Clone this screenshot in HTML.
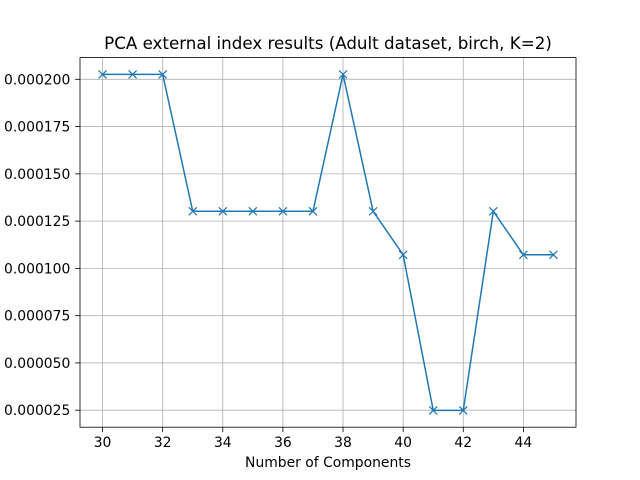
<!DOCTYPE html>
<html><head><meta charset="utf-8"><style>
body{margin:0;background:#fff}
svg{display:block;font-family:"DejaVu Sans","Liberation Sans",sans-serif}
</style></head><body>
<svg id="chart" width="640" height="480" viewBox="0 0 640 480" xmlns="http://www.w3.org/2000/svg">
<rect width="640" height="480" fill="#fff"/>
<text x="328" y="49" font-size="16.7" text-anchor="middle" fill="#000">PCA external index results (Adult dataset, birch, K=2)</text>
<text x="328" y="467" font-size="13.9" text-anchor="middle" fill="#000">Number of Components</text>
<g id="grid"></g><g id="ticks"></g><g id="series"></g>
<rect x="80" y="57.6" width="496" height="369.6" fill="none" stroke="#000" stroke-width="0.8"/>
</svg>
<script>
const components = [30,31,32,33,34,35,36,37,38,39,40,41,42,43,44,45];
const scores = [0.0002026,0.0002026,0.0002026,0.0001302,0.0001302,0.0001302,0.0001302,0.0001302,0.0002026,0.0001302,0.0001072,0.0000249,0.0000249,0.0001302,0.0001072,0.0001072];
const xTicks = [30,32,34,36,38,40,42,44];
const yTicks = [0.000025,0.00005,0.000075,0.0001,0.000125,0.00015,0.000175,0.0002];
const yTickLabels = ["0.000025","0.000050","0.000075","0.000100","0.000125","0.000150","0.000175","0.000200"];

const L=80,R=576,T=57.6,B=427.2;
const xmin=Math.min(...components),xmax=Math.max(...components);
const xpad=(xmax-xmin)*0.05;
const ymin0=Math.min(...scores),ymax0=Math.max(...scores);
const ypad=(ymax0-ymin0)*0.05;
const x=v=>L+(v-(xmin-xpad))/((xmax+xpad)-(xmin-xpad))*(R-L);
const y=v=>B-(v-(ymin0-ypad))/((ymax0+ypad)-(ymin0-ypad))*(B-T);
const NS="http://www.w3.org/2000/svg";
function mk(tag,attrs,parent){const e=document.createElementNS(NS,tag);for(const k in attrs)e.setAttribute(k,attrs[k]);parent.appendChild(e);return e;}
const grid=document.getElementById('grid'),ticks=document.getElementById('ticks'),series=document.getElementById('series');
xTicks.forEach(v=>{
  const px=x(v);
  const g=mk('line',{x1:px,x2:px,y1:T,y2:B,stroke:'#b0b0b0','stroke-width':0.8},grid);
  
  
  mk('line',{x1:px,x2:px,y1:B,y2:B+4.9,stroke:'#000','stroke-width':0.8},ticks);
  const t=mk('text',{x:px,y:B+20,'font-size':13.9,'text-anchor':'middle'},ticks);
  t.textContent=v;
  
  
});
yTicks.forEach((v,i)=>{
  const py=y(v);
  const g=mk('line',{x1:L,x2:R,y1:py,y2:py,stroke:'#b0b0b0','stroke-width':0.8},grid);
  
  
  mk('line',{x1:L-4.9,x2:L,y1:py,y2:py,stroke:'#000','stroke-width':0.8},ticks);
  const t=mk('text',{x:L-9.7,y:py+5,'font-size':13.9,'text-anchor':'end'},ticks);
  t.textContent=yTickLabels[i];
  
  
});
const pts=components.map((c,i)=>x(c)+','+y(scores[i])).join(' ');
const line=mk('polyline',{points:pts,fill:'none',stroke:'#1f77b4','stroke-width':1.5},series);


components.forEach((c,i)=>{
  const px=x(c),py=y(scores[i]),s=4;
  const m=mk('path',{d:`M${px-s},${py-s}L${px+s},${py+s}M${px-s},${py+s}L${px+s},${py-s}`,stroke:'#1f77b4','stroke-width':1.2,fill:'none'},series);
  
  
});
</script>
</body></html>
